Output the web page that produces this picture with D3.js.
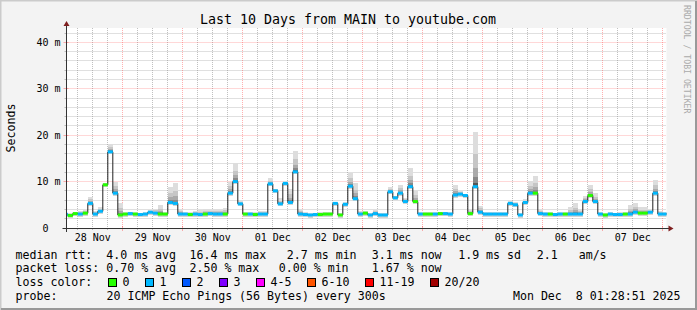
<!DOCTYPE html>
<html><head><meta charset="utf-8">
<script src="https://cdn.jsdelivr.net/npm/d3@7"></script>
<style>
html,body{margin:0;padding:0;background:#f3f3f3}
svg{display:block}
text{font-family:"DejaVu Sans Mono",monospace;white-space:pre}
</style>
</head><body>
<svg id="chart" width="697" height="310" xml:space="preserve"></svg>
<script>
// ---------------- data ----------------
const titleText = "Last 10 Days from MAIN to youtube.com";
const yAxisTitle = "Seconds";
const watermark = "RRDTOOL / TOBI OETIKER";
const startTime = Date.UTC(2025, 10, 28, 1, 28, 51);
const endTime = Date.UTC(2025, 11, 8, 1, 28, 51);
const binStart = Date.UTC(2025, 10, 28, 0, 0, 0);
const binHours = 2;
// median rtt per 2h bin (ms)
const medianMs = [
 2.95,2.7,3.1,3.0,3.2,5.3,3.0,3.6,9.3,16.4,
 7.5,2.8,3.0,3.1,3.0,2.9,3.0,3.4,3.2,3.0,
 3.0,5.5,5.3,3.0,3.0,2.9,3.0,2.9,3.0,3.1,
 3.0,3.0,3.0,7.5,10.0,5.2,3.0,3.0,2.9,3.0,
 3.0,9.5,8.0,5.2,9.6,5.5,12.1,3.0,2.9,2.8,
 2.9,2.9,3.0,3.0,5.3,2.8,5.1,9.0,6.3,3.0,
 3.2,2.8,3.1,2.8,2.8,7.8,6.5,7.5,5.7,8.9,
 5.7,3.0,3.0,3.0,3.0,3.1,3.1,3.0,7.1,7.3,
 7.0,3.1,8.9,3.4,3.0,3.0,3.0,3.0,3.0,5.3,
 5.0,2.8,5.5,7.5,7.5,3.1,3.0,3.0,2.9,3.0,
 3.0,3.0,3.0,3.0,5.7,7.0,5.7,3.0,2.8,3.0,
 2.9,2.9,3.0,3.0,3.4,3.2,3.2,3.4,7.5,3.0,
 3.0
];
// highest ping of each bin (top of the smoke, ms)
const smokeMaxMs = [
 3.3,3.2,3.5,3.6,3.8,6.7,3.6,4.6,9.8,18.2,
 10.0,5.3,3.5,3.5,3.4,3.3,3.4,3.8,4.2,5.0,
 3.5,8.9,9.6,4.0,3.4,3.5,3.6,3.8,4.0,4.2,
 4.2,4.2,4.3,10.0,13.9,6.0,3.5,3.4,3.4,3.6,
 3.6,10.7,8.5,6.4,10.2,8.5,16.6,4.0,3.4,3.3,
 3.3,3.4,3.4,3.5,5.6,3.3,5.5,11.8,9.6,3.6,
 3.6,3.2,3.9,3.2,3.2,8.9,7.0,9.3,6.5,12.9,
 8.0,3.4,3.4,3.4,3.4,3.5,3.5,3.4,9.3,7.9,
 7.4,4.2,20.6,4.8,3.4,3.4,3.4,3.4,3.4,5.8,
 5.5,3.3,6.2,10.2,11.1,4.0,3.4,3.4,3.3,3.4,
 3.5,4.5,5.3,4.0,7.0,9.3,7.5,3.5,3.3,3.4,
 3.3,3.4,3.5,5.0,5.3,4.5,4.5,3.9,10.35,3.6,
 3.5
];
// lost pings (of 20) per bin
const lossPings = [
 1,0,0,1,0,1,1,1,0,1,
 1,0,0,1,0,1,1,1,1,0,
 0,1,1,1,1,0,1,1,0,1,
 1,1,0,1,1,1,0,1,0,1,
 1,1,1,1,1,1,1,1,1,1,
 1,0,0,0,1,0,1,1,1,1,
 0,1,1,1,1,1,1,1,1,1,
 0,1,0,0,1,0,1,1,1,1,
 1,0,1,1,1,1,1,1,1,1,
 1,1,1,1,0,1,1,0,1,1,
 0,1,1,1,1,0,1,1,0,1,
 1,1,0,1,1,0,0,1,1,1,
 1
];
const yTickValues = [0, 10, 20, 30, 40];
const yTickLabels = ["0  ", "10 m", "20 m", "30 m", "40 m"];
const dayLabels = ["28 Nov","29 Nov","30 Nov","01 Dec","02 Dec","03 Dec","04 Dec","05 Dec","06 Dec","07 Dec"];
const lossLabels = ["0","1","2","3","4-5","6-10","11-19","20/20"];
const lossColors = ["#26ff00","#00b8ff","#0059ff","#7e00ff","#ff00ff","#ff5500","#ff0000","#a10000"];
const medianStats = ["median rtt:  4.0 ms avg","16.4 ms max","2.7 ms min","3.1 ms now","1.9 ms sd","2.1   am/s"];
const lossStats = ["packet loss: 0.70 % avg","2.50 % max","0.00 % min","1.67 % now"];
const lossColorTitle = "loss color:";
const probeTitle = "probe:";
const probeText = "20 ICMP Echo Pings (56 Bytes) every 300s";
const dateStamp = "Mon Dec  8 01:28:51 2025";

// ---------------- layout ----------------
const W = 697, H = 310;
const X0 = 66.5, X1 = 666.5, Y0 = 228, Y1 = 28;
const yMax = 43.08;
const svg = d3.select("#chart");
const x = d3.scaleUtc().domain([startTime, endTime]).range([X0, X1]);
const y = d3.scaleLinear().domain([0, yMax]).range([Y0, Y1]);
const snap = v => Math.floor(v) + 0.5;
const HOUR = 3600e3;

// background + frame
svg.append("rect").attr("width", W).attr("height", H).attr("fill", "#f3f3f3");
svg.append("rect").attr("x", X0).attr("y", Y1).attr("width", X1 - X0).attr("height", Y0 - Y1).attr("fill", "#ffffff");
svg.append("path").attr("d", `M0.5,${H}V0.5H${W}`).attr("fill","none").attr("stroke","#cbcbcb").attr("stroke-width",2);
svg.append("path").attr("d", `M1,${H-1}H${W-1}V1`).attr("fill","none").attr("stroke","#999999").attr("stroke-width",2);

// grid
const gridMinor = "rgba(150,150,150,0.6)";
const gridMajor = "rgba(255,80,80,0.45)";
const g = svg.append("g");
const minorTimes = d3.utcHour.every(6).range(new Date(startTime), new Date(endTime)).filter(d => d.getUTCHours() !== 0);
const majorTimes = d3.utcDay.range(new Date(startTime), new Date(endTime));
g.selectAll(".vmin").data(minorTimes).join("line")
  .attr("x1", d => snap(x(d))).attr("x2", d => snap(x(d))).attr("y1", Y1).attr("y2", Y0)
  .attr("stroke", gridMinor).attr("stroke-dasharray", "1,1");
const yMinor = d3.range(2, yMax, 2).filter(v => v % 10 !== 0);
g.selectAll(".hmin").data(yMinor).join("line")
  .attr("x1", X0).attr("x2", X1).attr("y1", d => snap(y(d))).attr("y2", d => snap(y(d)))
  .attr("stroke", gridMinor).attr("stroke-dasharray", "1,1");
g.selectAll(".vmaj").data(majorTimes).join("line")
  .attr("x1", d => snap(x(d))).attr("x2", d => snap(x(d))).attr("y1", Y1).attr("y2", Y0)
  .attr("stroke", gridMajor).attr("stroke-dasharray", "1,1");
g.selectAll(".hmaj").data(yTickValues.filter(v => v > 0)).join("line")
  .attr("x1", X0).attr("x2", X1).attr("y1", d => snap(y(d))).attr("y2", d => snap(y(d)))
  .attr("stroke", gridMajor).attr("stroke-dasharray", "1,1");
// tick marks
g.selectAll(".tmin").data(yMinor).join("line")
  .attr("x1", X0 - 2).attr("x2", X0).attr("y1", d => snap(y(d))).attr("y2", d => snap(y(d))).attr("stroke", gridMinor);
g.selectAll(".tmaj").data(yTickValues).join("line")
  .attr("x1", X0 - 3).attr("x2", X0 + 2).attr("y1", d => snap(y(d))).attr("y2", d => snap(y(d))).attr("stroke", gridMajor);
g.selectAll(".tbmin").data(minorTimes).join("line")
  .attr("x1", d => snap(x(d))).attr("x2", d => snap(x(d))).attr("y1", Y0).attr("y2", Y0 + 2).attr("stroke", gridMinor);
g.selectAll(".tbmaj").data(majorTimes).join("line")
  .attr("x1", d => snap(x(d))).attr("x2", d => snap(x(d))).attr("y1", Y0 - 2).attr("y2", Y0 + 3).attr("stroke", gridMajor);

// data
const bins = medianMs.map((m, i) => ({
  t0: binStart + i * binHours * HOUR,
  t1: binStart + (i + 1) * binHours * HOUR,
  med: m, hi: smokeMaxMs[i], loss: lossPings[i]
}));
svg.append("defs").append("clipPath").attr("id", "plotclip")
  .append("rect").attr("x", X0 + 0.5).attr("y", Y1).attr("width", X1 - X0 - 0.5).attr("height", Y0 - Y1);
const plot = svg.append("g").attr("clip-path", "url(#plotclip)");

// smoke layers
const smokeShades = [
  {f: 1.0, c: "#dddddd"}, {f: 0.6, c: "#c6c6c6"}, {f: 0.35, c: "#aaaaaa"},
  {f: 0.18, c: "#888888"}, {f: 0.07, c: "#555555"}
];
smokeShades.forEach(s => {
  plot.selectAll(null).data(bins).join("rect")
    .attr("x", d => x(d.t0)).attr("width", d => x(d.t1) - x(d.t0))
    .attr("y", d => y(d.med + s.f * (d.hi - d.med)))
    .attr("height", d => Math.max(0, y(d.med) - y(d.med + s.f * (d.hi - d.med))))
    .attr("fill", s.c).attr("shape-rendering", "crispEdges");
});
// smoke just under the median
plot.selectAll(null).data(bins).join("rect")
  .attr("x", d => x(d.t0)).attr("width", d => x(d.t1) - x(d.t0))
  .attr("y", d => y(d.med)).attr("height", 2.5)
  .attr("fill", "#d4d4d4").attr("shape-rendering", "crispEdges");

// median line
const stepPts = bins.map(d => [x(d.t0), y(d.med)]);
stepPts.push([x(bins[bins.length - 1].t1), y(bins[bins.length - 1].med)]);
plot.append("path").attr("d", d3.line().curve(d3.curveStepAfter)(stepPts))
  .attr("fill", "none").attr("stroke", "#202020").attr("stroke-width", 1);

// loss coloured bands
const lossIndex = l => l === 0 ? 0 : l === 1 ? 1 : l === 2 ? 2 : l === 3 ? 3 : l <= 5 ? 4 : l <= 10 ? 5 : l <= 19 ? 6 : 7;
plot.selectAll(null).data(bins).join("rect")
  .attr("x", d => x(d.t0)).attr("width", d => x(d.t1) - x(d.t0))
  .attr("y", d => y(d.med) - 1.5).attr("height", 3)
  .attr("fill", d => lossColors[lossIndex(d.loss)]);

// axes
const axisCol = "#333333", arrowCol = "#7f1f1f";
svg.append("line").attr("x1", X0 - 4).attr("x2", X1 + 4).attr("y1", Y0 + 0.5).attr("y2", Y0 + 0.5).attr("stroke", axisCol);
svg.append("line").attr("x1", X0).attr("x2", X0).attr("y1", Y0 + 4).attr("y2", Y1 - 4).attr("stroke", axisCol);
svg.append("path").attr("d", `M${X1+2},${Y0-2.5}L${X1+2},${Y0+3.5}L${X1+7},${Y0+0.5}Z`).attr("fill", arrowCol);
svg.append("path").attr("d", `M${X0-3},${Y1-2}L${X0+3},${Y1-2}L${X0},${Y1-7}Z`).attr("fill", arrowCol);

// tick labels
svg.selectAll(".ylab").data(yTickValues).join("text")
  .attr("x", 60.5).attr("y", d => snap(y(d)) + 3.6)
  .attr("text-anchor", "end").attr("font-size", "10px").attr("fill", "#000")
  .text((d, i) => yTickLabels[i]);
const noonTimes = majorTimes.map(d => +d - 12 * HOUR);
svg.selectAll(".xlab").data(dayLabels).join("text")
  .attr("x", (d, i) => x(noonTimes[i])).attr("y", 241)
  .attr("text-anchor", "middle").attr("font-size", "10px").attr("fill", "#000")
  .text(d => d);

// titles
svg.append("text").attr("x", 348).attr("y", 24).attr("text-anchor", "middle")
  .attr("font-size", "13.3px").attr("fill", "#000").text(titleText);
svg.append("text").attr("transform", `translate(15,128) rotate(-90)`).attr("text-anchor", "middle")
  .attr("font-size", "11.6px").attr("fill", "#000").text(yAxisTitle);
svg.append("text").attr("transform", `translate(683.5,5) rotate(90)`).attr("text-anchor", "start")
  .attr("font-size", "8.2px").attr("fill", "#aaaaaa").text(watermark);

// legend
const fs = "11.6px";
const leg = svg.append("g").attr("font-size", fs).attr("fill", "#000");
const medX = [15.5, 189.5, 286.8, 371.8, 458.2, 536.8];
medianStats.forEach((s, i) => leg.append("text").attr("x", medX[i]).attr("y", 258.5).text(s));
const lossX = [15.5, 189.5, 278.8, 371.8];
lossStats.forEach((s, i) => leg.append("text").attr("x", lossX[i]).attr("y", 272.2).text(s));
leg.append("text").attr("x", 15.5).attr("y", 285.9).text(lossColorTitle);
let bx = 108.5;
lossLabels.forEach((lab, i) => {
  leg.append("rect").attr("x", bx).attr("y", 278.5).attr("width", 8).attr("height", 8)
    .attr("fill", lossColors[i]).attr("stroke", "#000").attr("stroke-width", 1);
  leg.append("text").attr("x", bx + 14).attr("y", 285.9).text(lab);
  bx += 37 + (lab.length - 1) * 7;
});
leg.append("text").attr("x", 15.5).attr("y", 299.6).text(probeTitle);
leg.append("text").attr("x", 106.5).attr("y", 299.6).text(probeText);
leg.append("text").attr("x", 680.5).attr("y", 299.6).attr("text-anchor", "end").text(dateStamp);
</script>
</body></html>
